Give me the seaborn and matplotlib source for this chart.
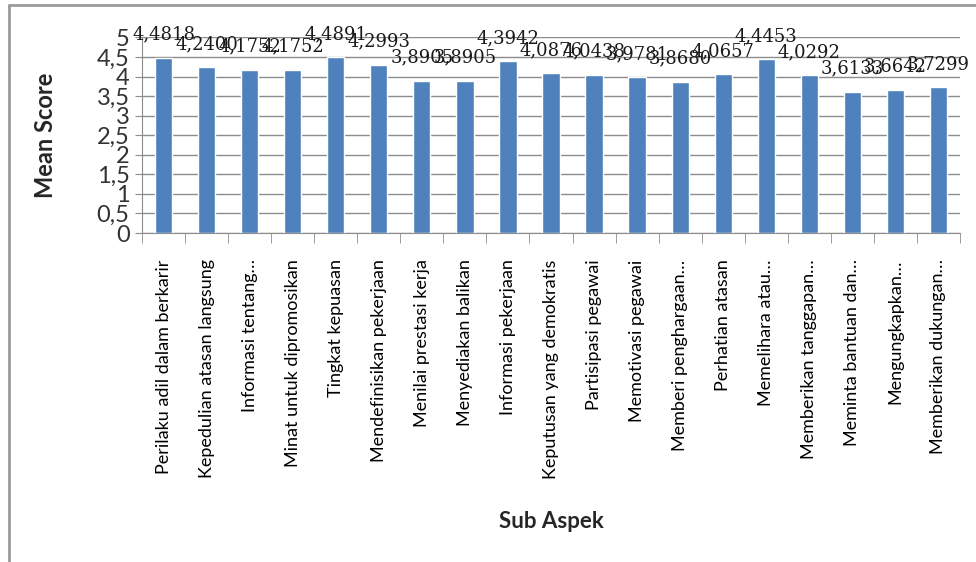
import matplotlib
matplotlib.use("Agg")
import matplotlib.pyplot as plt
import seaborn as sns
import pandas as pd
from matplotlib.ticker import FuncFormatter, MultipleLocator

# data
sub_aspek = [
    "Perilaku adil dalam berkarir",
    "Kepedulian atasan langsung",
    "Informasi tentang…",
    "Minat untuk dipromosikan",
    "Tingkat kepuasan",
    "Mendefinisikan pekerjaan",
    "Menilai prestasi kerja",
    "Menyediakan balikan",
    "Informasi pekerjaan",
    "Keputusan yang demokratis",
    "Partisipasi pegawai",
    "Memotivasi pegawai",
    "Memberi penghargaan…",
    "Perhatian atasan",
    "Memelihara atau…",
    "Memberikan tanggapan…",
    "Meminta bantuan dan…",
    "Mengungkapkan…",
    "Memberikan dukungan…",
]
mean_score = [4.4818, 4.2400, 4.1752, 4.1752, 4.4891, 4.2993, 3.8905, 3.8905,
              4.3942, 4.0876, 4.0438, 3.9781, 3.8680, 4.0657, 4.4453, 4.0292,
              3.6133, 3.6642, 3.7299]

df = pd.DataFrame({"Sub Aspek": sub_aspek, "Mean Score": mean_score})

sns.set_style("white")
plt.rcParams["font.family"] = ["Lato", "DejaVu Sans"]

fig = plt.figure(figsize=(9.76, 5.62), dpi=100)
ax = fig.add_axes([0.1455, 0.5854, 0.8381, 0.3479])

sns.barplot(data=df, x="Sub Aspek", y="Mean Score", color="#4F81BD",
            saturation=1, width=0.4, ax=ax, zorder=3)

ax.set_ylim(0, 5)
ax.set_xlim(-0.5, len(sub_aspek) - 0.5)
ax.yaxis.set_major_locator(MultipleLocator(0.5))
ax.yaxis.set_major_formatter(FuncFormatter(lambda v, p: f"{v:g}".replace(".", ",")))
ax.grid(axis="y", color="#8c8c8c", linewidth=1, zorder=0)
ax.set_axisbelow(True)

# value labels above each bar
for i, v in enumerate(mean_score):
    ax.annotate(f"{v:.4f}".replace(".", ","), (i, v), xytext=(0, 13),
                textcoords="offset points", ha="center", va="baseline",
                fontsize=13, family="DejaVu Serif", color="#1a1a1a")

# spines and ticks like the spreadsheet chart
for s in ["top", "right"]:
    ax.spines[s].set_visible(False)
ax.spines["left"].set_color("#8c8c8c")
ax.spines["bottom"].set_color("#8c8c8c")
ax.tick_params(axis="y", length=5, color="#8c8c8c", labelsize=17,
               labelcolor="#333333", pad=4, left=True)
ax.set_xticks([x - 0.5 for x in range(len(sub_aspek) + 1)], minor=True)
ax.tick_params(axis="x", which="major", length=0, labelsize=13, pad=19,
               labelcolor="black")
ax.tick_params(axis="x", which="minor", length=7, color="#8c8c8c", bottom=True)
ax.set_xticks(range(len(sub_aspek)))
ax.set_xticklabels(sub_aspek, rotation=90, va="top", ha="center")

ax.set_ylabel("Mean Score", fontsize=17, fontweight="bold")
ax.yaxis.set_label_coords(-0.104, 0.5)
ax.set_xlabel("Sub Aspek", fontsize=16, fontweight="bold")
ax.xaxis.set_label_coords(0.5, -1.478)
ax.xaxis.label.set_va("center")

# outer chart frame (top and left edges visible)
fig.add_artist(plt.Line2D([9 / 976, 1], [1 - 5 / 562, 1 - 5 / 562],
                          transform=fig.transFigure, color="#9a9a9a", linewidth=2))
fig.add_artist(plt.Line2D([9 / 976, 9 / 976], [0, 1 - 5 / 562],
                          transform=fig.transFigure, color="#9a9a9a", linewidth=2))

fig.savefig("out.png", dpi=100)
